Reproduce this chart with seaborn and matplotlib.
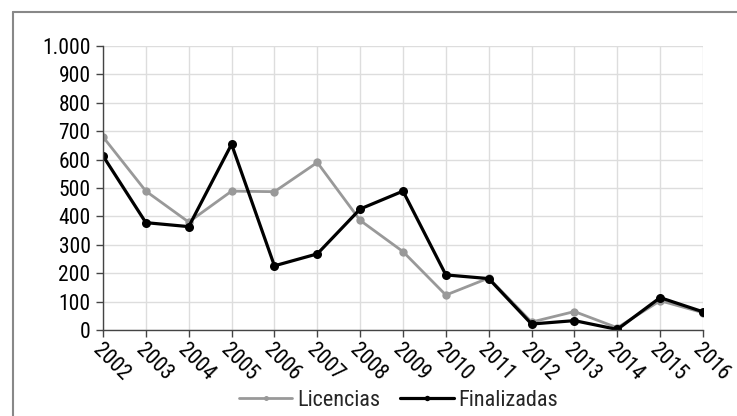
import matplotlib
matplotlib.use("Agg")
import matplotlib.pyplot as plt
import matplotlib.ticker as mticker
from matplotlib.lines import Line2D
import pandas as pd
import seaborn as sns

years = list(range(2002, 2017))
licencias = [680, 489, 380, 489, 487, 590, 386, 276, 123, 183, 28, 65, 8, 103, 61]
finalizadas = [613, 378, 364, 654, 226, 268, 426, 489, 194, 181, 21, 33, 2, 114, 64]

df = pd.DataFrame({"year": years, "Licencias": licencias, "Finalizadas": finalizadas})

sns.set_style("white")
# narrow sans first, fall back to condensed DejaVu
plt.rcParams['font.family'] = ['Liberation Sans Narrow', 'Roboto Condensed', 'Archivo Narrow',
                               'DejaVu Sans']
plt.rcParams['font.stretch'] = 'condensed'

fig = plt.figure(figsize=(7.37, 4.16), dpi=100)
ax = fig.add_axes([103/737, 1-330/416, 600/737, 284/416])

sns.lineplot(data=df, x="year", y="Licencias", ax=ax, color="#999999", lw=2,
             marker="o", markersize=6, markeredgewidth=0, label="Licencias")
sns.lineplot(data=df, x="year", y="Finalizadas", ax=ax, color="black", lw=2.3,
             marker="o", markersize=6.5, markeredgewidth=0, label="Finalizadas")

ax.set_xlim(2002, 2016)
ax.set_ylim(0, 1000)
ax.set_yticks(range(0, 1001, 100))
ax.set_xticks(years)
ax.yaxis.set_major_formatter(mticker.FuncFormatter(lambda v, p: f"{int(v):,}".replace(",", ".")))
ax.set_xticklabels([str(y) for y in years], rotation=-45, ha="left", rotation_mode="anchor")
ax.set_xlabel("")
ax.set_ylabel("")
ax.grid(True, color="#dddddd", lw=1)
ax.set_axisbelow(True)
for s in ["top", "right"]:
    ax.spines[s].set_visible(False)
for s in ["left", "bottom"]:
    ax.spines[s].set_color("#444444")
    ax.spines[s].set_linewidth(1)
ax.tick_params(axis="both", which="major", length=5, width=1, color="#444444",
               labelsize=15.5, colors="black", direction="out")
ax.tick_params(axis="x", pad=2)
ax.tick_params(axis="y", left=True, pad=4)
ax.tick_params(axis="x", bottom=True)

leg = ax.legend(loc="center", bbox_to_anchor=(0.4925, -0.247), ncol=2, frameon=False,
                fontsize=16, handlelength=2.4, columnspacing=0.9, handletextpad=0.22,
                markerscale=0.6, borderpad=0)

# outer chart frame
fig.add_artist(Line2D([13/737, 13/737], [0, 1-12/416], color="#888888", lw=1.5))
fig.add_artist(Line2D([13/737, 1], [1-12/416, 1-12/416], color="#888888", lw=1.5))

fig.savefig("out.png", dpi=100)
